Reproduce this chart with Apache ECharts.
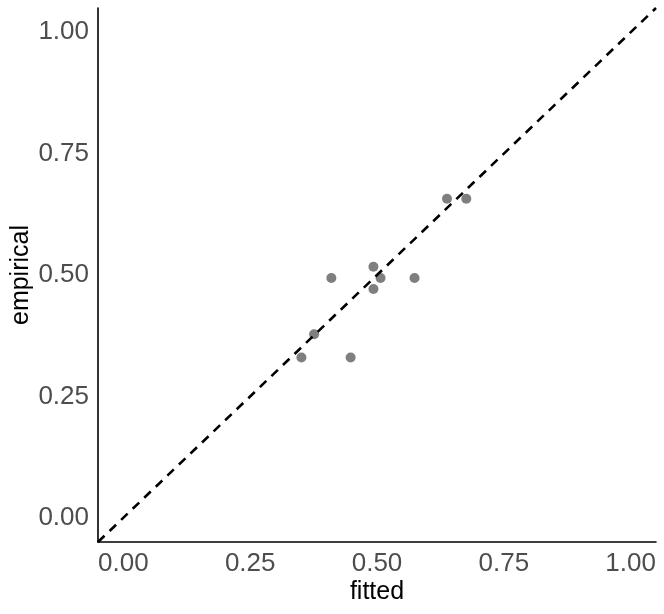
<!DOCTYPE html>
<html>
<head>
<meta charset="utf-8">
<script src="https://cdn.jsdelivr.net/npm/echarts@6/dist/echarts.min.js"></script>
<style>
  html, body { margin: 0; padding: 0; background: #fff; }
  #main { width: 664px; height: 614px; }
</style>
</head>
<body>
<div id="main"></div>
<script>
  // points
  var fitted = [0.351, 0.376, 0.410, 0.448, 0.493, 0.493, 0.507, 0.574, 0.638, 0.676];
  var empirical = [0.330, 0.378, 0.494, 0.330, 0.517, 0.471, 0.494, 0.494, 0.657, 0.657];
  // y = x reference line ends
  var refLine = [-0.05, 1.05];
  var ticks = [0, 0.25, 0.5, 0.75, 1];

  var pts = fitted.map(function (x, i) { return [x, empirical[i]]; });
  var diag = refLine.map(function (v) { return [v, v]; });

  var font = '"Liberation Sans", Arial, sans-serif';

  function axis(name, gap) {
    return {
      type: 'value',
      min: -0.05,
      max: 1.05,
      name: name,
      nameLocation: 'middle',
      nameGap: gap,
      nameMoveOverlap: false,
      nameTextStyle: { color: '#000', fontSize: 25, fontFamily: font },
      axisLine: { show: true, onZero: false, lineStyle: { color: '#000', width: 1.6 } },
      axisTick: { show: false },
      splitLine: { show: false },
      axisLabel: {
        customValues: ticks,
        color: '#4d4d4d',
        fontSize: 26,
        fontFamily: font,
        margin: 9,
        formatter: function (v) { return v.toFixed(2); }
      }
    };
  }

  var myChart = echarts.init(document.getElementById('main'));
  myChart.setOption({
    animation: false,
    grid: { left: 98, right: 8, top: 8, bottom: 72, outerBoundsMode: 'none' },
    xAxis: axis('fitted', 38),
    yAxis: axis('empirical', 64),
    series: [
      {
        type: 'line',
        data: diag,
        symbol: 'none',
        lineStyle: { color: '#000', width: 2.6, type: [9, 7] },
        z: 3
      },
      {
        type: 'scatter',
        data: pts,
        symbolSize: 10,
        itemStyle: { color: '#7f7f7f', opacity: 1 },
        z: 2
      }
    ]
  });
</script>
</body>
</html>
